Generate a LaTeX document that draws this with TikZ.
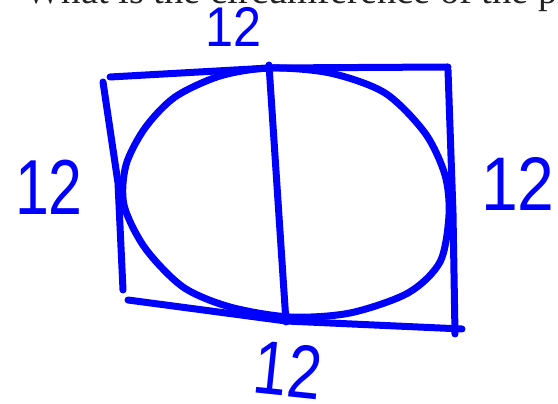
\documentclass[tikz,border=0pt]{standalone}
\usepackage{fontspec}
\setmainfont{Liberation Serif}
\newfontfamily\handfont{Liberation Sans}
\definecolor{pen}{HTML}{0000FF}
\definecolor{print}{HTML}{222222}

\begin{document}
\begin{tikzpicture}[x=1pt, y=1pt, line width=7pt, line cap=round, line join=round]
  \useasboundingbox (0,0) rectangle (558,404);
  \node[anchor=base west, inner sep=0, text=print, font=\fontsize{38.5}{38.5}\selectfont] (question) at (22,400) {What is the circumference of the pi};
  % square
  \draw[pen] (110,327) -- (270,336) -- (448,337);
  \draw[pen] (103,322) -- (118,221) -- (123,114);
  \draw[pen] (128,104) -- (286,83) -- (462,75);
  \draw[pen] (448,334) -- (453,191) -- (455,70);
  % diameter
  \draw[pen] (269,339) -- (286,82);
  % circle
  \draw[pen] plot[smooth cycle] coordinates {(270,336) (330,331) (385,311) (425,271) (445,229) (449,189) (440,142) (408,111) (350,91) (290,87) (230,97) (183,117) (145,156) (124,199) (126,239) (145,276) (175,307) (220,328)};
  % labels
  \node[pen, inner sep=0, font=\handfont\fontsize{56}{56}\selectfont] (sideT) at (234,377) {\scalebox{0.9}[1]{12}};
  \node[pen, inner sep=0, font=\handfont\fontsize{78}{78}\selectfont] (sideL) at (49,217) {\scalebox{0.78}[1]{12}};
  \node[pen, inner sep=0, font=\handfont\fontsize{76}{76}\selectfont] (sideR) at (518,220) {\scalebox{0.87}[1]{12}};
  \node[pen, inner sep=0, font=\handfont\fontsize{76}{76}\selectfont, rotate=-6] (sideB) at (288,34) {\scalebox{0.8}[1]{12}};
\end{tikzpicture}
\end{document}
